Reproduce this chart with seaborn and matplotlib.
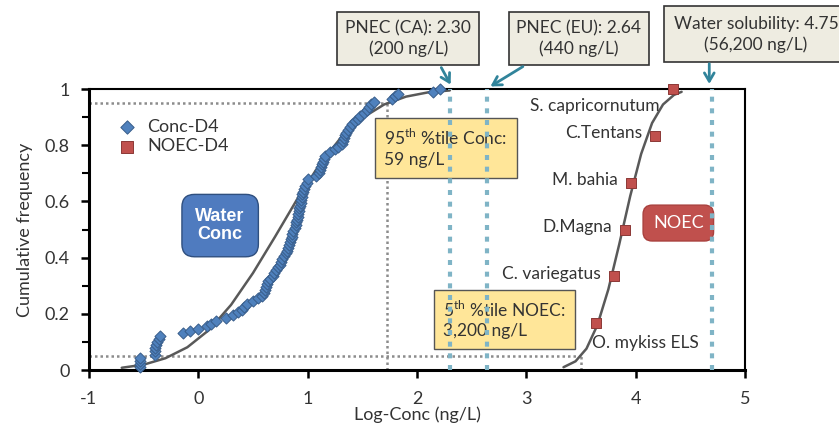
import numpy as np
import pandas as pd
import matplotlib
matplotlib.use("Agg")
import matplotlib.pyplot as plt
import seaborn as sns

# 측정 농도 (log ng/L) 와 누적 빈도 - 그림에서 읽은 값
conc_x = [-0.53, -0.53, -0.53, -0.53, -0.40, -0.40, -0.40, -0.39, -0.38, -0.36, -0.35,
          -0.14, -0.08, 0.00, 0.08, 0.12, 0.16, 0.25, 0.32, 0.36, 0.40, 0.42, 0.45,
          0.50, 0.55, 0.58, 0.60, 0.61, 0.62, 0.63, 0.64, 0.66, 0.68, 0.69, 0.71,
          0.73, 0.75, 0.76, 0.77, 0.78, 0.80, 0.81, 0.82, 0.83, 0.84, 0.85, 0.855,
          0.86, 0.87, 0.88, 0.89, 0.895, 0.90, 0.91, 0.915, 0.92, 0.925, 0.93, 0.935,
          0.94, 0.945, 0.95, 0.96, 0.97, 0.98, 0.99, 1.00, 1.08, 1.10, 1.11, 1.12,
          1.13, 1.14, 1.15, 1.16, 1.20, 1.25, 1.28, 1.31, 1.32, 1.33, 1.34, 1.35,
          1.37, 1.39, 1.41, 1.43, 1.46, 1.48, 1.52, 1.54, 1.56, 1.58, 1.61, 1.77,
          1.80, 1.83, 2.15, 2.21]
conc_y = [0.011, 0.022, 0.033, 0.044, 0.055, 0.066, 0.077, 0.088, 0.099, 0.110, 0.121,
          0.130, 0.138, 0.146, 0.155, 0.165, 0.175, 0.185, 0.195, 0.205, 0.215, 0.225, 0.235,
          0.245, 0.255, 0.265, 0.275, 0.285, 0.295, 0.305, 0.315, 0.325, 0.335, 0.345, 0.355,
          0.365, 0.375, 0.385, 0.395, 0.405, 0.415, 0.425, 0.435, 0.445, 0.455, 0.465, 0.475,
          0.485, 0.495, 0.505, 0.515, 0.525, 0.535, 0.545, 0.555, 0.565, 0.575, 0.585, 0.595,
          0.605, 0.615, 0.625, 0.635, 0.645, 0.655, 0.665, 0.680, 0.692, 0.702, 0.712, 0.722,
          0.732, 0.742, 0.752, 0.762, 0.775, 0.785, 0.795, 0.805, 0.815, 0.825, 0.835, 0.845,
          0.855, 0.865, 0.875, 0.885, 0.895, 0.905, 0.915, 0.925, 0.935, 0.945, 0.955, 0.965,
          0.975, 0.983, 0.990, 1.000]

# NOEC 종별 값
noec_species = ["O. mykiss ELS", "C. variegatus", "D.Magna", "M. bahia", "C.Tentans", "S. capricornutum"]
noec_x = [3.64, 3.80, 3.90, 3.96, 4.18, 4.34]
noec_y = [0.167, 0.333, 0.500, 0.667, 0.833, 1.000]

# 적합 곡선 (그림에서 읽은 점)
conc_fit_x = [-0.70, -0.50, -0.30, -0.10, 0.10, 0.30, 0.50, 0.70, 0.90, 1.10, 1.30, 1.50, 1.70, 1.90, 2.10, 2.30]
conc_fit_y = [0.008, 0.019, 0.042, 0.081, 0.143, 0.232, 0.345, 0.473, 0.605, 0.726, 0.825, 0.897, 0.945, 0.973, 0.988, 0.995]
noec_fit_x = [3.34, 3.45, 3.55, 3.65, 3.75, 3.85, 3.95, 4.05, 4.15, 4.25, 4.35, 4.42]
noec_fit_y = [0.010, 0.031, 0.076, 0.160, 0.287, 0.448, 0.619, 0.769, 0.879, 0.945, 0.979, 0.990]

# 기준값
pnec_ca = 2.30
pnec_eu = 2.64
solubility = 4.70
p95_conc = 1.73
p5_noec = 3.50

sns.set_style("white")
plt.rcParams['font.family'] = ['Lato', 'DejaVu Sans']
plt.rcParams['mathtext.fontset'] = 'custom'
plt.rcParams['mathtext.rm'] = 'Lato'
plt.rcParams['axes.unicode_minus'] = False
txt = '#333333'

fig = plt.figure(figsize=(8.39, 4.28), dpi=100)
ax = fig.add_axes([0.106, 0.1355, 0.782, 0.6565])

conc = pd.DataFrame({'x': conc_x, 'y': conc_y})
noec = pd.DataFrame({'x': noec_x, 'y': noec_y})

sns.lineplot(x=conc_fit_x, y=conc_fit_y, ax=ax, color='#595959', lw=1.8, sort=False, estimator=None, zorder=2)
sns.lineplot(x=noec_fit_x, y=noec_fit_y, ax=ax, color='#595959', lw=1.8, sort=False, estimator=None, zorder=2)

sns.scatterplot(data=conc, x='x', y='y', ax=ax, marker='D', s=32, color='#4f81bd',
                edgecolor='#385d8a', linewidth=0.7, label='Conc-D4', zorder=5, clip_on=False)
sns.scatterplot(data=noec, x='x', y='y', ax=ax, marker='s', s=60, color='#c0504d',
                edgecolor='#8c3836', linewidth=0.7, label='NOEC-D4', zorder=5, clip_on=False)

# 백분위 점선
gray = '#8c8c8c'
ax.plot([-1, p95_conc], [0.95, 0.95], color=gray, lw=1.8, ls=(0, (1, 1.2)), zorder=1)
ax.plot([p95_conc, p95_conc], [0, 0.95], color=gray, lw=1.8, ls=(0, (1, 1.2)), zorder=1)
ax.plot([-1, p5_noec], [0.05, 0.05], color=gray, lw=1.8, ls=(0, (1, 1.2)), zorder=1)
ax.plot([p5_noec, p5_noec], [0, 0.05], color=gray, lw=1.8, ls=(0, (1, 1.2)), zorder=1)

# PNEC / 용해도 선
teal = '#7fb4c6'
for v in [pnec_ca, pnec_eu, solubility]:
    ax.plot([v, v], [0, 1], color=teal, lw=3, ls=(0, (1.2, 1.6)), zorder=6, solid_capstyle='butt')

# 종 이름
for sp, x, y in zip(noec_species, noec_x, noec_y):
    if sp == "O. mykiss ELS":
        ax.text(x - 0.04, y - 0.07, sp, ha='left', va='center', fontsize=12.5, color=txt)
    elif sp == "S. capricornutum":
        ax.text(x - 0.12, y - 0.06, sp, ha='right', va='center', fontsize=12.5, color=txt)
    else:
        ax.text(x - 0.12, y + 0.01, sp, ha='right', va='center', fontsize=12.5, color=txt)

# 노란 박스
ybox = dict(boxstyle='square,pad=0.55', fc='#ffe699', ec='#555555', lw=1)
ax.text(1.70, 0.79, "95$^{\\rm th}$ %tile Conc:\n59 ng/L", ha='left', va='center',
        fontsize=12.5, color=txt, bbox=ybox, zorder=3, linespacing=1.3)
ax.text(2.24, 0.18, "5$^{\\rm th}$ %tile NOEC:\n3,200 ng/L", ha='left', va='center',
        fontsize=12.5, color=txt, bbox=ybox, zorder=3, linespacing=1.3)

# 둥근 박스
ax.text(0.20, 0.514, "Water\nConc", ha='center', va='center', fontsize=13, color='white',
        fontweight='bold', family='Liberation Sans', linespacing=1.1, zorder=3,
        bbox=dict(boxstyle='round,pad=0.75,rounding_size=0.7', fc='#4f7bbf', ec='#2f4f7f', lw=1))
ax.text(4.39, 0.523, "NOEC", ha='center', va='center', fontsize=13, color='white', zorder=3,
        bbox=dict(boxstyle='round,pad=0.55,rounding_size=0.5', fc='#c0504d', ec='#a9403d', lw=1))

# 상단 콜아웃
cbox = dict(boxstyle='square,pad=0.45', fc='#eeece1', ec='#333333', lw=1.2)
ax.text(1.92, 1.18, "PNEC (CA): 2.30\n(200 ng/L)", ha='center', va='center', fontsize=12.5,
        color=txt, bbox=cbox, clip_on=False, linespacing=1.3)
ax.text(3.48, 1.18, "PNEC (EU): 2.64\n(440 ng/L)", ha='center', va='center', fontsize=12.5,
        color=txt, bbox=cbox, clip_on=False, linespacing=1.3)
ax.text(5.10, 1.195, "Water solubility: 4.75\n(56,200 ng/L)", ha='center', va='center', fontsize=12.5,
        color=txt, bbox=dict(boxstyle='square,pad=0.55', fc='#eeece1', ec='#333333', lw=1.2),
        clip_on=False, linespacing=1.3)

arrow = dict(arrowstyle='->,head_length=0.6,head_width=0.35', color='#31849b', lw=2)
ax.annotate('', xy=(2.32, 1.007), xytext=(2.21, 1.085), arrowprops=arrow, annotation_clip=False)
ax.annotate('', xy=(2.65, 1.004), xytext=(2.99, 1.085), arrowprops=arrow, annotation_clip=False)
ax.annotate('', xy=(4.673, 1.008), xytext=(4.673, 1.10), arrowprops=arrow, annotation_clip=False)

ax.set_xlim(-1, 5)
ax.set_ylim(0, 1)
ax.set_xticks(range(-1, 6))
ax.set_yticks([0, 0.2, 0.4, 0.6, 0.8, 1.0])
ax.set_yticklabels(['0', '0.2', '0.4', '0.6', '0.8', '1'])
ax.set_yticks(np.arange(0.1, 1.0, 0.2), minor=True)
ax.tick_params(axis='both', which='major', direction='out', length=6, width=1.8,
               labelsize=13, labelcolor=txt, color='black', left=True, bottom=True)
ax.tick_params(axis='x', which='major', pad=9)
ax.tick_params(axis='y', which='major', pad=8)
ax.tick_params(axis='y', which='minor', direction='out', length=5, width=1.5, left=True, color='black')

for s in ['left', 'bottom']:
    ax.spines[s].set_linewidth(2.2)
for s in ['top', 'right']:
    ax.spines[s].set_linewidth(1.5)
for s in ax.spines.values():
    s.set_color('black')

ax.set_xlabel("Log-Conc (ng/L)", fontsize=13, color=txt, labelpad=0)
ax.set_ylabel("Cumulative frequency", fontsize=13, color=txt, labelpad=8)

ax.legend(loc='upper left', bbox_to_anchor=(0.02, 0.92), frameon=False, fontsize=13,
          handletextpad=0.1, borderaxespad=0, labelspacing=0.2, markerscale=1.2,
          labelcolor=txt)

fig.savefig("out.png", dpi=100)
